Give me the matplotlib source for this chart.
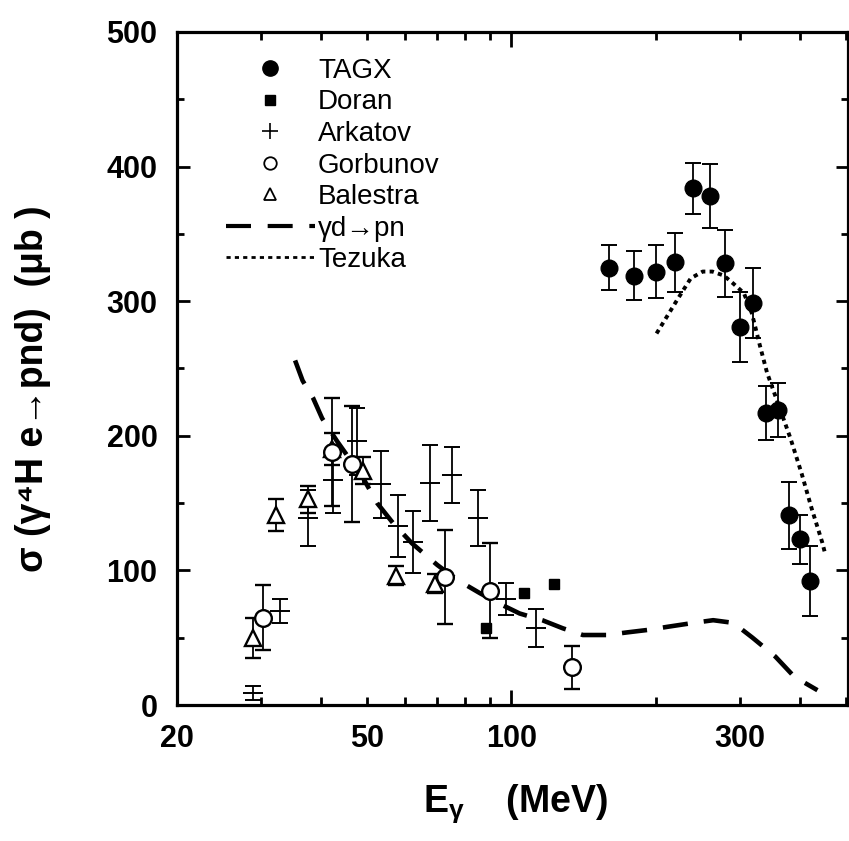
import numpy as np
import matplotlib
matplotlib.use('Agg')
import matplotlib.pyplot as plt
from matplotlib.lines import Line2D
from matplotlib.ticker import FixedLocator, FuncFormatter, NullFormatter

plt.rcParams['font.family'] = ['Liberation Sans', 'DejaVu Sans']
plt.rcParams['mathtext.fontset'] = 'custom'
plt.rcParams['mathtext.rm'] = 'Liberation Sans:bold'
plt.rcParams['mathtext.it'] = 'Liberation Sans:bold'
plt.rcParams['mathtext.bf'] = 'Liberation Sans:bold'
plt.rcParams['mathtext.default'] = 'it'

# TAGX (filled circles)
tagx_e = [160, 180, 200, 220, 240, 260, 280, 300, 320, 340, 360, 380, 400, 420]
tagx_s = [325, 319, 322, 329, 384, 378, 328, 281, 299, 217, 219, 141, 123, 92]
tagx_err = [17, 18, 20, 22, 19, 24, 25, 26, 26, 20, 20, 25, 18, 26]

# Doran (filled squares, no errors)
dor_e = [88.5, 106, 123]
dor_s = [57, 83, 90]

# Arkatov (crosses)
ark_e = [28.8, 32.9, 37.5, 42.4, 47.6, 53.4, 57.9, 62.2, 67.5, 75.0, 85.3, 97.5, 112.6]
ark_s = [9, 70, 139, 167, 196, 164, 133, 121, 165, 171, 139, 79, 57]
ark_err = [5, 9, 21, 24, 25, 25, 23, 23, 28, 21, 21, 12, 14]

# Gorbunov (open circles)
gor_e = [30.3, 42.2, 46.4, 72.5, 90.3, 134]
gor_s = [65, 188, 179, 95, 85, 28]
gor_err = [24, 40, 43, 35, 35, 16]

# Balestra (open triangles)
bal_e = [28.8, 32.2, 37.5, 42.1, 48.9, 57.5, 69.2]
bal_s = [50, 141, 153, 190, 174, 96, 90]
bal_err = [15, 12, 10, 12, 10, 7, 7]

# gamma d -> p n curve
gd_e = [35.3, 36.6, 38.5, 40.2, 43.2, 48.9, 52.4, 56.6, 62, 70, 77, 86, 93.5, 104, 116,
        128, 141, 158, 175, 195, 211, 240, 264, 291, 319, 356, 390, 436]
gd_s = [256, 241, 228, 213, 196, 169, 150, 135, 120, 104, 93, 83, 76, 68, 63,
        57, 52, 52, 54, 56, 58, 61, 63, 61, 50, 36, 21, 11]

# Tezuka curve
tz_e = [201, 222, 237, 251, 263, 278, 291, 306, 318, 330, 342, 364, 383, 404, 424, 446, 452]
tz_s = [276, 301, 317, 322, 322, 319, 313, 306, 291, 268, 247, 220, 198, 172, 146, 121, 113]

fig = plt.figure(figsize=(8.49, 8.41), dpi=100)
ax = fig.add_axes([0.2085, 0.1617, 0.7903, 0.8003])
ax.set_xscale('log')
ax.set_xlim(20, 505)
ax.set_ylim(0, 500)

eb = dict(color='black', ecolor='black', elinewidth=1.3, capsize=5.5, capthick=1.4)
ax.errorbar(ark_e, ark_s, yerr=ark_err, fmt='_', ms=15, mew=1.4, **eb)
ax.errorbar(bal_e, bal_s, yerr=bal_err, fmt='^', ms=11, mfc='white', mec='black', mew=1.7, **eb)
ax.errorbar(gor_e, gor_s, yerr=gor_err, fmt='o', ms=12, mfc='white', mec='black', mew=1.7, **eb)
ax.plot(dor_e, dor_s, 's', ms=7.5, color='black')
ax.errorbar(tagx_e, tagx_s, yerr=tagx_err, fmt='o', ms=12, **eb)
ax.plot(gd_e, gd_s, color='black', lw=3.3, dashes=(5.5, 3.5))
ax.plot(tz_e, tz_s, color='black', lw=2.8, dashes=(1.1, 1.1))

handles = [
    Line2D([], [], ls='none', marker='o', ms=11, color='black'),
    Line2D([], [], ls='none', marker='s', ms=7, color='black'),
    Line2D([], [], ls='none', marker='+', ms=11, mew=1.2, color='black'),
    Line2D([], [], ls='none', marker='o', ms=9, mfc='white', mec='black', mew=1.3),
    Line2D([], [], ls='none', marker='^', ms=8, mfc='white', mec='black', mew=1.3),
    Line2D([], [], color='black', lw=3, dashes=(6, 4)),
    Line2D([], [], color='black', lw=2, dashes=(1.5, 1.5)),
]
labels = ['TAGX', 'Doran', 'Arkatov', 'Gorbunov', 'Balestra', 'γd→pn', 'Tezuka']
ax.legend(handles, labels, loc='upper left', bbox_to_anchor=(0.056, 0.978), frameon=False,
          prop={'size': 20, 'weight': 'normal'}, handlelength=3.2, handletextpad=0.12,
          labelspacing=0.2, borderaxespad=0)

# ticks
ax.xaxis.set_major_locator(FixedLocator([100]))
ax.xaxis.set_minor_locator(FixedLocator([20, 30, 40, 50, 60, 70, 80, 90, 200, 300, 400, 500]))
lab = {20: '20', 50: '50', 100: '100', 300: '300'}
ax.xaxis.set_major_formatter(FuncFormatter(lambda v, p: lab.get(int(round(v)), '')))
ax.xaxis.set_minor_formatter(FuncFormatter(lambda v, p: lab.get(int(round(v)), '')))
ax.yaxis.set_major_locator(FixedLocator([0, 100, 200, 300, 400, 500]))
ax.yaxis.set_minor_locator(FixedLocator([50, 150, 250, 350, 450]))
ax.yaxis.set_minor_formatter(NullFormatter())
ax.tick_params(which='both', direction='in', top=True, right=True, width=2,
               labelsize=22, pad=14)
ax.tick_params(axis='x', which='major', length=11)
ax.tick_params(axis='x', which='minor', length=6)
ax.tick_params(axis='y', which='major', length=9)
ax.tick_params(axis='y', which='minor', length=5)
for t in ax.get_xticklabels(which='both') + ax.get_yticklabels():
    t.set_fontweight('bold')
for s in ax.spines.values():
    s.set_linewidth(2.3)

ax.set_xlabel(r'E$_{\gamma}$    (MeV)', fontsize=27, fontweight='bold')
ax.xaxis.set_label_coords(0.505, -0.115)
ax.set_ylabel('σ (γ⁴H e→pnd)  (μb )', fontsize=27, fontweight='bold')
ax.yaxis.set_label_coords(-0.188, 0.47)

fig.savefig('out.png', dpi=100)
